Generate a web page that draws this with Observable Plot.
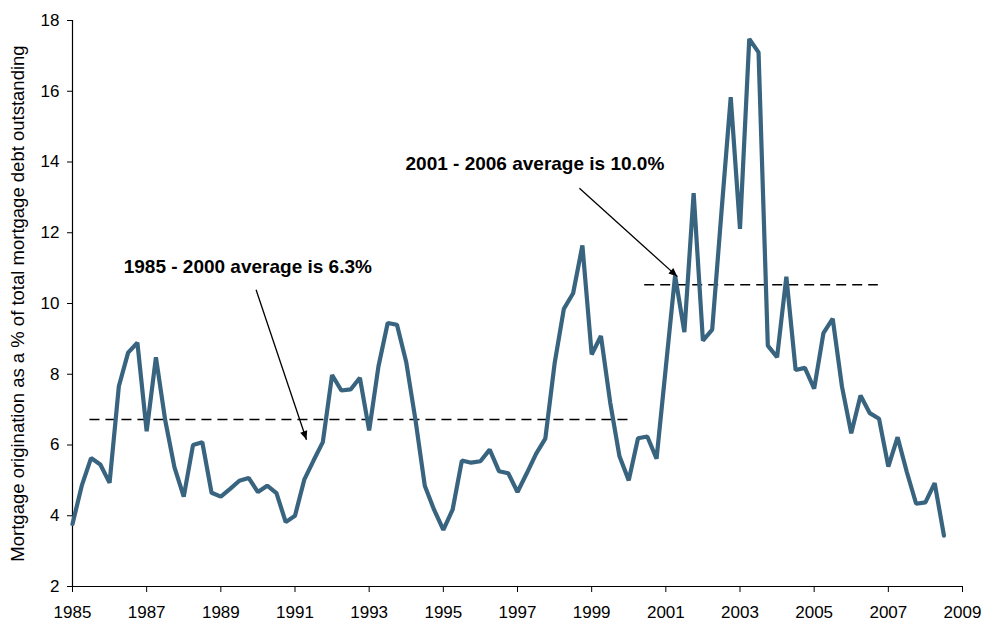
<!DOCTYPE html>
<html><head><meta charset="utf-8">
<script src="https://cdn.jsdelivr.net/npm/d3@7"></script>
<script src="https://cdn.jsdelivr.net/npm/@observablehq/plot@0.6"></script>
<style>body{margin:0;background:#fff;}</style>
</head><body><div id="chart"></div>
<script>
// Quarterly observations, 1985 Q1 .. 2008 Q3
const years = [
  1985.00, 1985.25, 1985.50, 1985.75, 1986.00, 1986.25, 1986.50, 1986.75,
  1987.00, 1987.25, 1987.50, 1987.75, 1988.00, 1988.25, 1988.50, 1988.75,
  1989.00, 1989.25, 1989.50, 1989.75, 1990.00, 1990.25, 1990.50, 1990.75,
  1991.00, 1991.25, 1991.50, 1991.75, 1992.00, 1992.25, 1992.50, 1992.75,
  1993.00, 1993.25, 1993.50, 1993.75, 1994.00, 1994.25, 1994.50, 1994.75,
  1995.00, 1995.25, 1995.50, 1995.75, 1996.00, 1996.25, 1996.50, 1996.75,
  1997.00, 1997.25, 1997.50, 1997.75, 1998.00, 1998.25, 1998.50, 1998.75,
  1999.00, 1999.25, 1999.50, 1999.75, 2000.00, 2000.25, 2000.50, 2000.75,
  2001.00, 2001.25, 2001.50, 2001.75, 2002.00, 2002.25, 2002.50, 2002.75,
  2003.00, 2003.25, 2003.50, 2003.75, 2004.00, 2004.25, 2004.50, 2004.75,
  2005.00, 2005.25, 2005.50, 2005.75, 2006.00, 2006.25, 2006.50, 2006.75,
  2007.00, 2007.25, 2007.50, 2007.75, 2008.00, 2008.25, 2008.50
];
const values = [
  3.77, 4.85, 5.63, 5.45, 4.93, 7.66, 8.61, 8.89,
  6.39, 8.48, 6.70, 5.37, 4.54, 6.00, 6.08, 4.65,
  4.54, 4.76, 4.99, 5.07, 4.67, 4.85, 4.64, 3.82,
  4.00, 5.02, 5.56, 6.08, 7.98, 7.54, 7.57, 7.90,
  6.41, 8.22, 9.45, 9.40, 8.34, 6.70, 4.85, 4.17,
  3.60, 4.17, 5.56, 5.50, 5.54, 5.87, 5.26, 5.20,
  4.67, 5.20, 5.75, 6.18, 8.30, 9.85, 10.29, 11.64,
  8.56, 9.08, 7.20, 5.68, 5.00, 6.19, 6.24, 5.61,
  8.20, 10.79, 9.19, 13.12, 8.95, 9.26, 12.58, 15.83,
  12.11, 17.48, 17.10, 8.81, 8.48, 10.76, 8.12, 8.18,
  7.59, 9.16, 9.57, 7.65, 6.33, 7.40, 6.90, 6.74,
  5.39, 6.22, 5.23, 4.34, 4.38, 4.92, 3.44
];
const xTicks = [1985, 1987, 1989, 1991, 1993, 1995, 1997, 1999, 2001, 2003, 2005, 2007, 2009];
const yTicks = [2, 4, 6, 8, 10, 12, 14, 16, 18];
const yTitle = "Mortgage origination as a % of total mortgage debt outstanding";

// Average annotations
const avgLabels = ["1985 - 2000 average is 6.3%", "2001 - 2006 average is 10.0%"];
const avgLevels = [6.72, 10.53];
const avgStart = [1985.47, 2000.43];
const avgEnd = [2000.14, 2006.73];
const labelX = [1986.38, 1993.98];
const labelY = [11.03, 13.95];
const arrowX1 = [1989.95, 1998.67];
const arrowY1 = [10.39, 13.26];
const arrowX2 = [1991.31, 2001.31];
const arrowY2 = [6.15, 10.76];

const series = years.map((x, i) => ({x, y: values[i]}));
const notes = avgLabels.map((label, i) => ({
  label, level: avgLevels[i], start: avgStart[i], end: avgEnd[i],
  lx: labelX[i], ly: labelY[i],
  x1: arrowX1[i], y1: arrowY1[i], x2: arrowX2[i], y2: arrowY2[i]
}));

const chart = Plot.plot({
  width: 984, height: 621,
  marginLeft: 72, marginRight: 22, marginTop: 20, marginBottom: 35,
  style: {fontFamily: "'Liberation Sans', Arial, sans-serif", fontSize: "17px", background: "white", color: "black", overflow: "visible"},
  x: {domain: [1985, 2009]},
  y: {domain: [2, 18]},
  marks: [
    Plot.axisX({ticks: xTicks, tickFormat: d => String(d), tickSize: 6, tickPadding: 13, label: null, fontSize: 17}),
    Plot.axisY({ticks: yTicks, tickSize: 5, tickPadding: 8, label: null, fontSize: 17}),
    Plot.text([yTitle], {frameAnchor: "left", rotate: -90, dx: -54, textAnchor: "middle", fontSize: 18.5, text: d => d}),
    Plot.ruleX([1985], {stroke: "black", strokeWidth: 1.2}),
    Plot.ruleY([2], {stroke: "black", strokeWidth: 1.2}),
    Plot.ruleY(notes, {y: "level", x1: "start", x2: "end", stroke: "black", strokeWidth: 1.5, strokeDasharray: "10,6"}),
    Plot.line(series, {x: "x", y: "y", stroke: "#38647f", strokeWidth: 4.2, strokeLinejoin: "bevel"}),
    Plot.link(notes, {x1: "x1", y1: "y1", x2: "x2", y2: "y2", stroke: "black", strokeWidth: 1.3, markerEnd: "arrow"}),
    Plot.text(notes, {x: "lx", y: "ly", text: "label", textAnchor: "start", fontWeight: "bold", fontSize: 19})
  ]
});
chart.querySelectorAll('g[aria-label="x-axis tick label"], g[aria-label="y-axis tick label"]').forEach(g => {
  g.setAttribute("font-size", "17");
  g.querySelectorAll("text").forEach(t => t.style.fontSize = "17px");
});
chart.querySelectorAll("marker").forEach(m => {
  m.setAttribute("fill", "black");
  m.setAttribute("stroke", "none");
  m.setAttribute("overflow", "visible");
  const p = m.querySelector("path");
  if (p) p.setAttribute("d", "M-10,-4.2L0,0L-10,4.2Z");
});
document.getElementById("chart").appendChild(chart);
</script>
</body></html>
